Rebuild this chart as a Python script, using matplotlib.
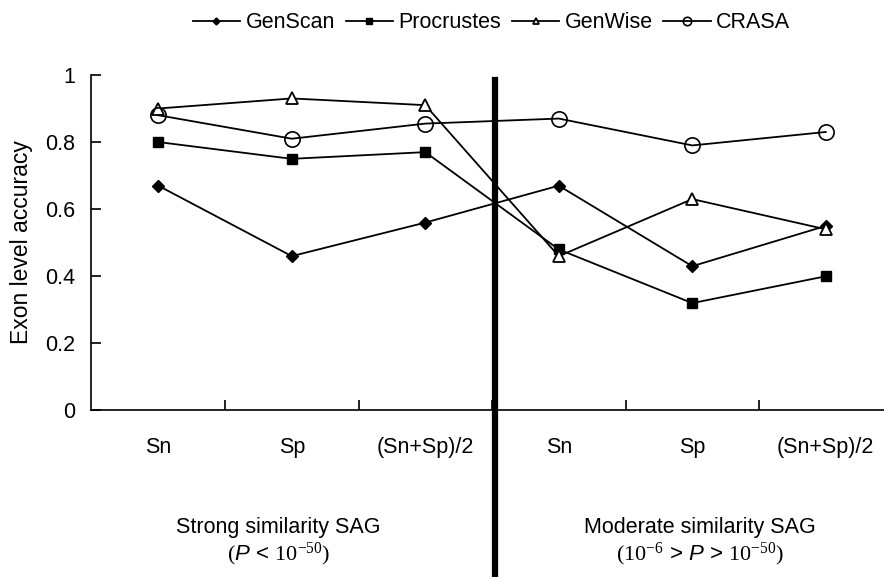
import numpy as np
import matplotlib
matplotlib.use("Agg")
import matplotlib.pyplot as plt

plt.rcParams['font.family'] = ['Liberation Sans', 'DejaVu Sans']
plt.rcParams['mathtext.fontset'] = 'custom'
plt.rcParams['mathtext.rm'] = 'Liberation Serif'
plt.rcParams['mathtext.it'] = 'Liberation Sans:italic'

categories = ["Sn", "Sp", "(Sn+Sp)/2", "Sn", "Sp", "(Sn+Sp)/2"]
genscan = [0.67, 0.46, 0.56, 0.67, 0.43, 0.55]
procrustes = [0.80, 0.75, 0.77, 0.48, 0.32, 0.40]
genwise = [0.90, 0.93, 0.91, 0.46, 0.63, 0.54]
crasa = [0.88, 0.81, 0.855, 0.87, 0.79, 0.83]
group_titles = ["Strong similarity SAG", "Moderate similarity SAG"]
group_pvals = [r"$\mathrm{(}\mathit{P}$ < $\mathrm{10^{-50})}$",
               r"$\mathrm{(10^{-6}}$ > $\mathit{P}$ > $\mathrm{10^{-50})}$"]
yticks = [0, 0.2, 0.4, 0.6, 0.8, 1]
ytick_labels = ["0", "0.2", "0.4", "0.6", "0.8", "1"]

fig = plt.figure(figsize=(8.84, 5.77), dpi=100)
ax = fig.add_axes([0.1035, 0.2886, 0.8965, 0.5815])

x = np.arange(len(categories))
lw = 1.3
ax.plot(x, genscan, color='black', lw=lw, marker='D', ms=6.5, mfc='black', label='GenScan')
ax.plot(x, procrustes, color='black', lw=lw, marker='s', ms=7, mfc='black', label='Procrustes')
ax.plot(x, genwise, color='black', lw=lw, marker='^', ms=8.5, mfc='white', mew=1.3, label='GenWise')
ax.plot(x, crasa, color='black', lw=lw, marker='o', ms=11, mfc='none', mew=1.2, label='CRASA')

ax.set_xlim(-0.5, 5.436)
ax.set_ylim(0, 1)
ax.set_yticks(yticks)
ax.set_yticklabels(ytick_labels)
ax.set_xticks(x)
ax.set_xticklabels(categories)
ax.set_xticks(np.arange(0.5, 5, 1.0), minor=True)
ax.tick_params(axis='x', which='major', length=0, pad=19, labelsize=15.5)
ax.tick_params(axis='x', which='minor', direction='in', length=7, width=1.2)
ax.tick_params(axis='y', direction='in', length=7, width=1.2, pad=12, labelsize=15.5)
for s in ['top', 'right']:
    ax.spines[s].set_visible(False)
for s in ['left', 'bottom']:
    ax.spines[s].set_linewidth(1.2)

# thick divider between the two groups
ax.plot([2.52, 2.52], [0.985, -0.5], color='black', lw=4.5, clip_on=False)

fig.text(22 / 884, 1 - 242.5 / 577, "Exon level accuracy", rotation=90,
         ha='center', va='center', fontsize=16.5)

trans = matplotlib.transforms.blended_transform_factory(ax.transData, fig.transFigure)
for gx, title, pv in zip([0.9, 4.06], group_titles, group_pvals):
    ax.text(gx, 1 - 527 / 577, title, transform=trans, ha='center', va='center', fontsize=15.5)
    ax.text(gx, 1 - 554 / 577, pv, transform=trans, ha='center', va='center', fontsize=16)

fig.legend(loc='center', bbox_to_anchor=(491.5 / 884, 1 - 23 / 577), ncol=4,
           frameon=False, fontsize=15.5, handlelength=2.2, handletextpad=0.25,
           columnspacing=0.5, markerscale=0.55)

fig.savefig("out.png", dpi=100)
